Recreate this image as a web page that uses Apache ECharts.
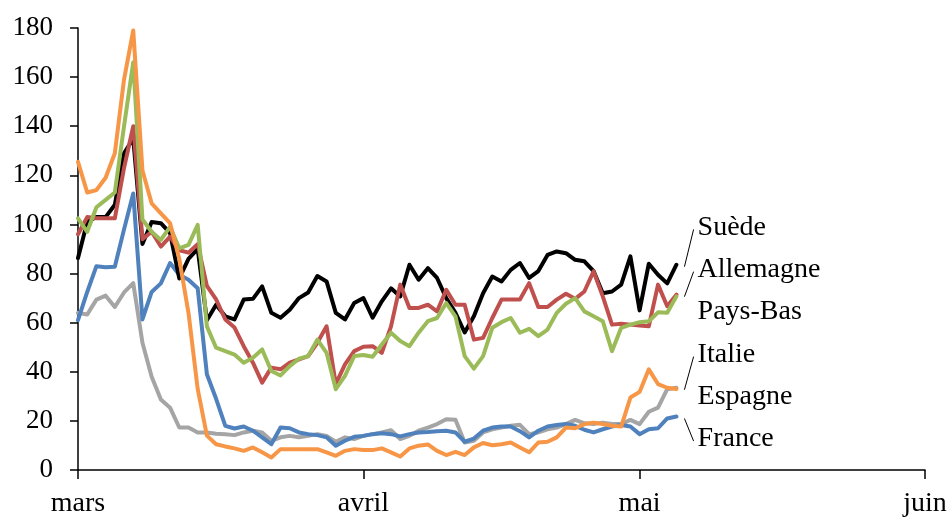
<!DOCTYPE html>
<html>
<head>
<meta charset="utf-8">
<script src="https://cdn.jsdelivr.net/npm/echarts@6/dist/echarts.min.js"></script>
<style>
  html, body { margin: 0; padding: 0; background: #fff; }
  #chart { width: 952px; height: 518px; }
</style>
</head>
<body>
<div id="chart"></div>
<script>
// Days are counted from 1 March (day 0); month boundaries carry the labels.
const monthTicks = [0, 31, 61, 92];
const monthLabels = ['mars', 'avril', 'mai', 'juin'];

// Daily index values, 1 March to 5 May
const suede = [86.3, 101, 103, 103, 108, 129, 135, 92, 101, 100.5, 96.5, 78, 86, 90, 61, 67.3, 62.6, 61.3, 69.4, 69.7,
  74.8, 64, 62, 65.3, 70, 72.3, 79, 76.8, 64, 61.3, 68, 70, 62, 68.7, 74, 70.7, 83.6, 77.5, 82.2, 78.2,
  70, 64, 56, 62.6, 72, 78.8, 76.8, 81.5, 84.3, 78.2, 81, 87.6, 89, 88.3, 85.6, 85, 81, 72, 72.7, 75.5,
  87, 65, 84, 79.5, 76, 83.6];
const allemagne = [96, 103, 102.5, 102.5, 102.5, 123, 140, 94, 97, 91, 95, 89.5, 88.5, 92, 75, 69.5, 61.3, 58, 50.4, 43.7,
  35.6, 41.7, 41, 43.7, 45, 46.4, 51.8, 58.5, 35, 43, 48.4, 50.2, 50.4, 47.7, 58.5, 75.5, 66, 66, 67.3, 64.6,
  73.4, 67.3, 67.3, 53.1, 53.8, 61.9, 69.4, 69.4, 69.4, 76.1, 66.4, 66.4, 69.4, 71.8, 69.7, 72.7, 80.9, 70.7, 59.2, 59.6,
  59.2, 58.8, 58.5, 75.5, 66.7, 71.4];
const paysBas = [102.5, 97, 107, 110, 113, 140, 166, 102, 97, 93.7, 99, 90.3, 91.7, 99.8, 58.5, 49.8, 48.4, 47, 43.7, 45.7,
  49.1, 40.3, 38.5, 42.3, 45.3, 46.4, 53.1, 47.7, 32.9, 38.3, 46.4, 46.8, 46.1, 51.1, 55.9, 52.5, 50.4, 55.9, 60.6, 61.9,
  68, 62.6, 46.4, 41.3, 46.4, 57.9, 60.2, 61.9, 55.9, 57.5, 54.5, 57.2, 64, 67.7, 70, 64.6, 62.6, 60.6, 48.4, 57.9,
  59.2, 60.2, 60.6, 64.2, 64, 70.7];
const italie = [64, 63.3, 69.4, 71, 66.4, 72.3, 76.1, 51.8, 38, 28.7, 25.4, 17.3, 17.3, 15.3, 15.3, 14.8, 14.6, 14.2, 15.3, 16,
  15.3, 11.9, 13.3, 13.9, 13.3, 13.9, 14.6, 13.9, 11.5, 13.3, 12.6, 13.9, 14.6, 15.3, 16.2, 12.6, 13.9, 16, 17.3, 18.7,
  20.7, 20.5, 11.2, 11.9, 15.3, 16.6, 17.3, 18, 18.4, 14.6, 15.3, 16.6, 17.3, 18.7, 20.4, 19, 18.7, 19.3, 18.7, 18.7,
  20.4, 18.7, 23.7, 25.4, 32.9, 33.5];
const espagne = [125.5, 113, 114, 119, 129, 159, 179, 122, 108.6, 104.5, 100.5, 86, 64, 33, 14, 10.5, 9.6, 8.8, 7.8, 9.2,
  7.2, 5.1, 8.5, 8.5, 8.5, 8.5, 8.5, 7.2, 5.8, 7.8, 8.5, 8.1, 8.1, 8.8, 7.2, 5.5, 8.8, 9.9, 10.4, 7.8,
  6.1, 7.4, 6.1, 9.2, 11, 10.1, 10.5, 11.2, 9.2, 7.2, 11.2, 11.5, 13.3, 17.3, 17, 18.7, 19.3, 18.7, 18, 17.7,
  29.5, 31.8, 41, 35, 33.5, 33];
const france = [61, 72.5, 83, 82.6, 82.8, 98, 112.6, 61.3, 72.5, 76, 84.3, 79.5, 77.5, 74, 39, 29, 18, 16.9, 17.7, 16,
  13.3, 10.5, 17.3, 17, 15.3, 14.6, 14.2, 13.3, 9.9, 11.9, 13.5, 13.9, 14.6, 15, 14.6, 13.7, 14.6, 15.3, 15.5, 15.8,
  16, 15.3, 11.5, 12.8, 16, 17.3, 17.7, 17.7, 15.8, 13.3, 16, 17.7, 18.3, 18.7, 18, 16.4, 15.3, 16.6, 17.7, 18.3,
  17.7, 14.6, 16.6, 17, 21, 21.8];

// Right-hand labels, listed top to bottom, with the level (in axis units) each sits at
const labelNames = ['Suède', 'Allemagne', 'Pays-Bas', 'Italie', 'Espagne', 'France'];
const labelLevels = [98.8, 81.6, 64.3, 47.0, 29.8, 12.6];
const labelSeries = [suede, allemagne, paysBas, italie, espagne, france];
const withLeader = [true, true, false, true, false, true];

const FONT = 'Liberation Serif';

const seriesDefs = [
  { name: 'Italie', data: italie, color: '#A5A5A5' },
  { name: 'France', data: france, color: '#4F81BD' },
  { name: 'Suède', data: suede, color: '#000000' },
  { name: 'Allemagne', data: allemagne, color: '#C0504D' },
  { name: 'Pays-Bas', data: paysBas, color: '#9BBB59' },
  { name: 'Espagne', data: espagne, color: '#F79646' }
];

const chart = echarts.init(document.getElementById('chart'), null, { renderer: 'canvas' });

chart.setOption({
  animation: false,
  backgroundColor: '#ffffff',
  grid: { left: 78, right: 27, top: 28, bottom: 46, containLabel: false },
  xAxis: {
    type: 'value',
    min: 0,
    max: 92,
    axisLine: { show: true, onZero: false, lineStyle: { color: '#000', width: 1.5 } },
    axisTick: { show: true, customValues: monthTicks, length: 9, lineStyle: { color: '#000', width: 1.5 } },
    axisLabel: {
      show: true,
      customValues: monthTicks,
      formatter: v => monthLabels[monthTicks.indexOf(v)],
      fontFamily: FONT, fontSize: 28, color: '#000', margin: 20
    },
    splitLine: { show: false }
  },
  yAxis: {
    type: 'value',
    min: 0,
    max: 180,
    interval: 20,
    axisLine: { show: true, lineStyle: { color: '#000', width: 1.5 } },
    axisTick: { show: true, length: 8, lineStyle: { color: '#000', width: 1.5 } },
    axisLabel: { fontFamily: FONT, fontSize: 27, color: '#000', margin: 25 },
    splitLine: { show: false }
  },
  series: seriesDefs.map(s => ({
    name: s.name,
    type: 'line',
    data: s.data.map((v, i) => [i, v]),
    showSymbol: false,
    symbol: 'none',
    lineStyle: { color: s.color, width: 4, cap: 'round', join: 'round' },
    itemStyle: { color: s.color },
    emphasis: { disabled: true }
  }))
});

// Right-hand country labels with short leader strokes toward the series ends
const labelDay = 67.3;
const graphics = [];
labelNames.forEach((name, k) => {
  const pos = chart.convertToPixel({ gridIndex: 0 }, [labelDay, labelLevels[k]]);
  graphics.push({
    type: 'text',
    x: pos[0],
    y: pos[1],
    style: { text: name, fontFamily: FONT, fontSize: 28, fill: '#000', align: 'left', verticalAlign: 'middle' }
  });
  if (withLeader[k]) {
    const vals = labelSeries[k];
    const endPt = chart.convertToPixel({ gridIndex: 0 }, [vals.length - 1, vals[vals.length - 1]]);
    graphics.push({
      type: 'line',
      shape: { x1: endPt[0] + 8, y1: endPt[1] + 2, x2: pos[0] - 4, y2: pos[1] + 2 },
      style: { stroke: '#000', lineWidth: 1 }
    });
  }
});
chart.setOption({ graphic: graphics });
</script>
</body>
</html>
